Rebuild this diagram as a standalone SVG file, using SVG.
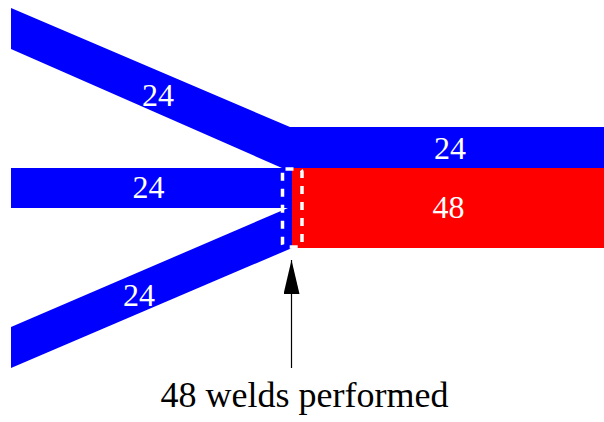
<svg xmlns="http://www.w3.org/2000/svg" width="604" height="422" viewBox="0 0 604 422">
  <defs>
    <style>
      .pipe { fill: #0000ff; stroke: none; }
      .joined { fill: #ff0000; stroke: none; }
      .count { font-family: "Liberation Serif", "Times New Roman", serif; font-size: 32px; fill: #ffffff; text-anchor: middle; }
      .caption { font-family: "Liberation Serif", "Times New Roman", serif; font-size: 36px; fill: #000000; text-anchor: middle; }
      .weld { fill: none; stroke: #ffffff; stroke-width: 3.5; stroke-dasharray: 8 8; }
      .pointer { stroke: #000000; stroke-width: 1.2; fill: none; }
    </style>
    <!-- filled arrowhead, tip along the marker's +x axis -->
    <marker id="arrowhead" viewBox="0 0 34 16" refX="34" refY="8" markerWidth="34" markerHeight="16" markerUnits="userSpaceOnUse" orient="auto">
      <path d="M34 8 L0 0 L0 16 Z" fill="#000000"/>
    </marker>
  </defs>

  <!-- upper feed pipe, bending into the top output band -->
  <g id="pipe-upper">
    <polygon class="pipe" points="11,8 290,127 604,127 604,168 282,168 11,49"/>
    <text class="count" x="158" y="106">24</text>
  </g>

  <!-- straight middle feed pipe -->
  <g id="pipe-middle">
    <rect class="pipe" x="11" y="168" width="281" height="40"/>
    <text class="count" x="148.5" y="198">24</text>
  </g>

  <!-- lower feed pipe -->
  <g id="pipe-lower">
    <polygon class="pipe" points="11,327 288,208 292,208 292,248 11,368"/>
    <text class="count" x="139" y="306">24</text>
  </g>

  <!-- count carried through on the top band -->
  <g id="label-top-band">
    <text class="count" x="450" y="159">24</text>
  </g>

  <!-- welded output section -->
  <g id="welded-section">
    <rect class="joined" x="292" y="168" width="312" height="80"/>
    <text class="count" x="448.5" y="218">48</text>
  </g>

  <!-- weld seam outline -->
  <g id="weld-seam">
    <rect class="weld" x="282.5" y="169" width="19.5" height="78" rx="3" ry="3"/>
  </g>

  <!-- pointer from caption to seam -->
  <g id="connectors">
    <line class="pointer" x1="291.5" y1="368" x2="291.5" y2="260" marker-end="url(#arrowhead)"/>
  </g>

  <g id="caption">
    <text class="caption" x="304.5" y="407">48 welds performed</text>
  </g>
</svg>
